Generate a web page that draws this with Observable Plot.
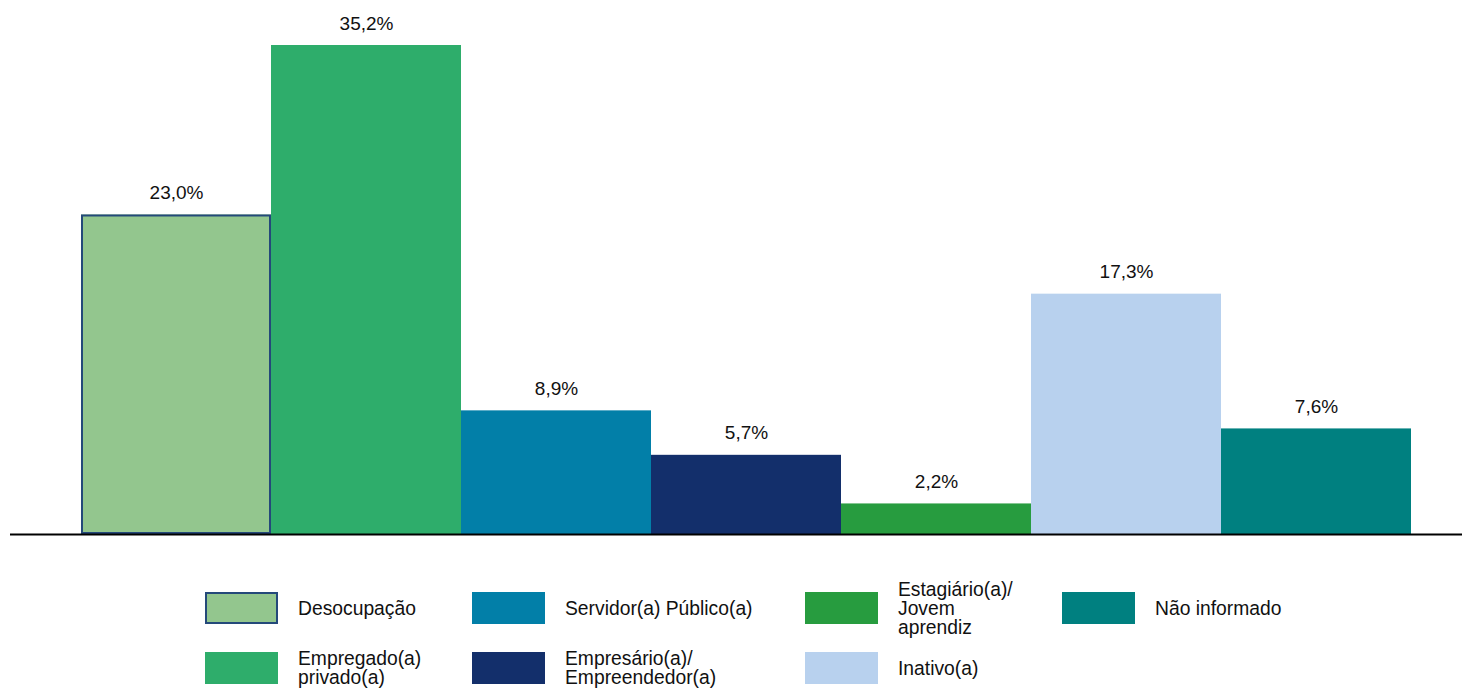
<!DOCTYPE html>
<html><head><meta charset="utf-8">
<script src="https://cdn.jsdelivr.net/npm/d3@7"></script>
<script src="https://cdn.jsdelivr.net/npm/@observablehq/plot@0.6"></script>
<style>
body{margin:0;background:#fff;font-family:"Liberation Sans",Arial,sans-serif;}
#wrap{position:relative;width:1462px;height:688px;overflow:hidden;}
#legend{position:absolute;left:205px;top:592px;display:grid;grid-template-rows:32px 32px;row-gap:28px;grid-auto-flow:column;grid-template-columns:267px 333px 257px 250px;}
.item{display:flex;align-items:center;}
.sw{width:73px;height:32px;box-sizing:border-box;flex:none;margin-right:20px;}
.lab{font-size:19.3px;line-height:19px;color:#111;white-space:nowrap;}
</style></head>
<body><div id="wrap"><div id="chart"></div><div id="legend"></div></div>
<script>
const categories = ["Desocupação","Empregado(a) privado(a)","Servidor(a) Público(a)","Empresário(a)/ Empreendedor(a)","Estagiário(a)/ Jovem aprendiz","Inativo(a)","Não informado"];
const legendLabels = ["Desocupação","Empregado(a)<br>privado(a)","Servidor(a) Público(a)","Empresário(a)/<br>Empreendedor(a)","Estagiário(a)/<br>Jovem<br>aprendiz","Inativo(a)","Não informado"];
const values = [23.0, 35.2, 8.9, 5.7, 2.2, 17.3, 7.6];
const colors = ["#93C68E","#2EAD6B","#027FA8","#132F6B","#279C3F","#B8D1EE","#008080"];
const strokes = ["#24497A", null, null, null, null, null, null];

const data = categories.map((c,i)=>({cat:c, v:values[i], fill:colors[i], stroke:strokes[i]}));
const fmt = v => v.toFixed(1).replace(".", ",") + "%";

const chart = Plot.plot({
  width: 1462, height: 546,
  marginLeft: 80, marginRight: 50, marginTop: 45, marginBottom: 12,
  x: {domain: categories, padding: 0, axis: null},
  y: {domain: [0, 35.2], axis: null},
  marks: [
    Plot.barY(data, {x:"cat", y:"v", fill: d=>d.fill}),
    Plot.barY(data.filter(d=>d.stroke), {x:"cat", y:"v", fill:"none", stroke:d=>d.stroke, strokeWidth:2, inset:1}),
    Plot.text(data, {x:"cat", y:"v", text: d=>fmt(d.v), lineAnchor:"bottom", dy:-16, fontSize:19, fill:"#111", fontFamily:"Liberation Sans, Arial, sans-serif"}),
    Plot.ruleY([0], {stroke:"#000", strokeWidth:2, insetLeft:-70, insetRight:-50})
  ],
  style: {overflow:"visible"}
});
document.getElementById("chart").appendChild(chart);

const leg = document.getElementById("legend");
categories.forEach((c,i)=>{
  const it = document.createElement("div"); it.className="item";
  const sw = document.createElement("div"); sw.className="sw";
  sw.style.background = colors[i];
  if (strokes[i]) sw.style.border = "2px solid " + strokes[i];
  const lb = document.createElement("div"); lb.className="lab"; lb.innerHTML = legendLabels[i];
  it.appendChild(sw); it.appendChild(lb); leg.appendChild(it);
});
</script></body></html>
